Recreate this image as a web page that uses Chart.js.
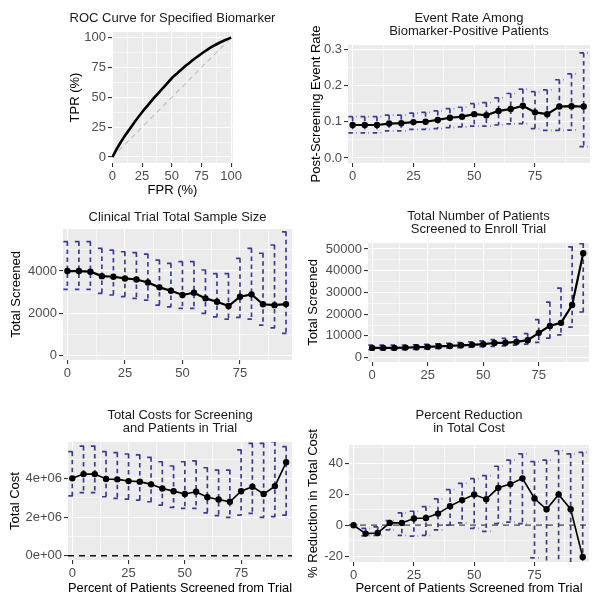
<!DOCTYPE html>
<html>
<head>
<meta charset="utf-8">
<script src="https://cdn.jsdelivr.net/npm/chart.js@4.4.1/dist/chart.umd.min.js"></script>
<style>
  html, body { margin: 0; padding: 0; background: #fff; }
  #wrap { position: relative; width: 604px; height: 602px; }
  canvas { position: absolute; }
</style>
</head>
<body>
<div id="wrap">
  <canvas id="roc" style="left:0;top:0;width:300px;height:200px" width="300" height="200"></canvas>
  <canvas id="rate" style="left:300px;top:0;width:304px;height:200px" width="304" height="200"></canvas>
  <canvas id="size" style="left:0;top:200px;width:300px;height:200px" width="300" height="200"></canvas>
  <canvas id="screen" style="left:300px;top:200px;width:304px;height:200px" width="304" height="200"></canvas>
  <canvas id="cost" style="left:0;top:400px;width:300px;height:202px" width="300" height="202"></canvas>
  <canvas id="reduct" style="left:300px;top:400px;width:304px;height:202px" width="304" height="202"></canvas>
</div>
<script>
// ---- data ----
const pct = [0, 5, 10, 15, 20, 25, 30, 35, 40, 45, 50, 55, 60, 65, 70, 75, 80, 85, 90, 95];

const rocFpr = [0, 5, 10, 15, 20, 25, 30, 35, 40, 45, 50, 55, 60, 65, 70, 75, 80, 85, 90, 95, 100];
const rocTpr = [0, 9, 17, 24, 31, 37.5, 43.5, 49.5, 55, 60.5, 66, 70.5, 75, 79, 83, 86.5, 90, 93, 95.7, 98, 100];

const eventRate   = [0.091, 0.091, 0.091, 0.095, 0.096, 0.099, 0.100, 0.105, 0.111, 0.114, 0.121, 0.118, 0.130, 0.135, 0.144, 0.126, 0.121, 0.142, 0.143, 0.142];
const eventRateHi = [0.114, 0.114, 0.114, 0.118, 0.118, 0.124, 0.126, 0.130, 0.136, 0.140, 0.150, 0.153, 0.166, 0.178, 0.190, 0.183, 0.188, 0.216, 0.232, 0.290];
const eventRateLo = [0.069, 0.069, 0.069, 0.075, 0.075, 0.079, 0.079, 0.081, 0.084, 0.086, 0.088, 0.088, 0.091, 0.094, 0.095, 0.081, 0.076, 0.076, 0.077, 0.031];

const sampleSize   = [4000, 4000, 3970, 3760, 3730, 3650, 3600, 3460, 3230, 3070, 2870, 2980, 2710, 2550, 2350, 2790, 2900, 2430, 2390, 2440];
const sampleSizeHi = [5390, 5390, 5390, 5070, 4990, 4910, 4870, 4800, 4520, 4360, 4440, 4440, 4050, 3880, 3880, 4600, 5070, 4840, 5230, 5850];
const sampleSizeLo = [3130, 3130, 3130, 2950, 2870, 2790, 2710, 2630, 2390, 2310, 2240, 2240, 2000, 1840, 1730, 1810, 1730, 1450, 1320, 1055];

const screened   = [4450, 4450, 4450, 4600, 4750, 4900, 5200, 5350, 5650, 5850, 6150, 6750, 6800, 7250, 8000, 11400, 14600, 16000, 24200, 48100];
const screenedHi = [5700, 5700, 5700, 5800, 5900, 6100, 6300, 6600, 6900, 7200, 7700, 8300, 8800, 9500, 11000, 17500, 25500, 32000, 51000, 52500];
const screenedLo = [3600, 3600, 3600, 3700, 3800, 4000, 4200, 4400, 4600, 4800, 5000, 5200, 5400, 5700, 6200, 7000, 9000, 10500, 14000, 21000];

const totalCost   = [4.00e6, 4.22e6, 4.22e6, 3.97e6, 3.95e6, 3.86e6, 3.83e6, 3.69e6, 3.48e6, 3.34e6, 3.19e6, 3.31e6, 3.02e6, 2.91e6, 2.79e6, 3.34e6, 3.57e6, 3.19e6, 3.60e6, 4.83e6];
const totalCostHi = [5.38e6, 5.67e6, 5.67e6, 5.38e6, 5.33e6, 5.26e6, 5.21e6, 5.09e6, 4.86e6, 4.64e6, 4.86e6, 4.90e6, 4.55e6, 4.43e6, 4.43e6, 5.47e6, 5.81e6, 5.81e6, 5.90e6, 5.64e6];
const totalCostLo = [3.09e6, 3.26e6, 3.26e6, 3.05e6, 2.97e6, 2.93e6, 2.88e6, 2.79e6, 2.62e6, 2.50e6, 2.45e6, 2.45e6, 2.22e6, 2.07e6, 1.98e6, 2.10e6, 2.19e6, 1.98e6, 2.02e6, 2.10e6];

const costReduction   = [0, -5.4, -5, 1.5, 1.5, 4.3, 4.7, 7.5, 12.3, 16.2, 19.8, 16.8, 24.1, 26.5, 30.2, 17.2, 10.3, 19.8, 10.3, -20.5];
const costReductionHi = [0, -2, -1, 3, 8, 9, 12, 17, 23, 27, 30, 32, 38, 42, 46, 41, 42, 48, 46, 47];
const costReductionLo = [0, -6.8, -6.5, -3, -6.5, -7, -6.5, -3, 0, 1.5, -2, -4, 1, 2, 1, -21, -30, -30, -30, -30];

// tick labels
const rocTicks = [0, 25, 50, 75, 100];
const pctTicks = [0, 25, 50, 75];
const rateTicks = [0, 0.1, 0.2, 0.3];
const sizeTicks = [0, 2000, 4000];
const screenTicks = [0, 10000, 20000, 30000, 40000, 50000];
const costTicks = [0, 2e6, 4e6];
const reductTicks = [-20, 0, 20, 40];

// ---- look ----
const FONT = "'Liberation Sans', Arial, sans-serif";
const TITLE_SIZE = 13, TITLE_LH = 13.4;
const AXT_SIZE = 13, AXT_LH = 15.6;
const TICK_SIZE = 13;
const BAR_COL = '#3b3b93';
const XR = [-1.9, 97.6];

const panelBg = {
  id: 'panelBg',
  beforeDraw(chart) {
    const a = chart.chartArea, ctx = chart.ctx;
    ctx.save();
    ctx.fillStyle = '#EBEBEB';
    ctx.fillRect(a.left, a.top, a.right - a.left, a.bottom - a.top);
    ctx.restore();
  }
};

// plot title centred over the panel, like ggplot
const panelTitle = {
  id: 'panelTitle',
  afterDraw(chart, args, opts) {
    const a = chart.chartArea, ctx = chart.ctx;
    ctx.save();
    ctx.fillStyle = '#1a1a1a';
    ctx.font = TITLE_SIZE + 'px ' + FONT;
    ctx.textAlign = 'center';
    ctx.textBaseline = 'middle';
    opts.lines.forEach((t, i) => ctx.fillText(t, (a.left + a.right) / 2, opts.y + i * TITLE_LH));
    ctx.restore();
  }
};

function withMinors(majors, min, max) {
  const step = majors[1] - majors[0];
  const all = majors.slice();
  for (let i = -1; i < majors.length; i++) {
    const m = majors[0] + (i + 0.5) * step;
    if (m > min && m < max) all.push(m);
  }
  return all.sort((a, b) => a - b);
}

function isMajor(v, majors) {
  return majors.some(m => Math.abs(m - v) < 1e-9 * Math.max(1, Math.abs(m)));
}

function axis(pos, min, max, majors, fmt, title, size) {
  const all = withMinors(majors, min, max);
  return {
    type: 'linear', position: pos, min: min, max: max,
    afterBuildTicks: s => { s.ticks = all.map(v => ({ value: v })); },
    afterFit: s => { if (pos === 'bottom') s.height = size; else s.width = size; },
    grid: {
      color: '#ffffff',
      lineWidth: c => (c.tick && isMajor(c.tick.value, majors)) ? 1.1 : 0.55,
      tickColor: c => (c.tick && isMajor(c.tick.value, majors)) ? '#333333' : 'rgba(0,0,0,0)',
      tickLength: 4,
      drawTicks: true
    },
    border: { display: false },
    ticks: {
      autoSkip: false, maxRotation: 0, minRotation: 0, padding: 2,
      color: '#4D4D4D', font: { family: FONT, size: TICK_SIZE },
      callback: v => isMajor(v, majors) ? fmt(v) : ''
    },
    title: {
      display: !!title, text: title || '', color: '#000',
      font: { family: FONT, size: AXT_SIZE }, padding: 0
    }
  };
}

function errorBars(xs, lo, hi, hw) {
  const pts = [];
  xs.forEach((x, i) => {
    pts.push({ x: x - hw, y: hi[i] }, { x: x + hw, y: hi[i] }, { x: x, y: null });
    pts.push({ x: x, y: hi[i] }, { x: x, y: lo[i] }, { x: x, y: null });
    pts.push({ x: x - hw, y: lo[i] }, { x: x + hw, y: lo[i] }, { x: x, y: null });
  });
  return pts;
}

function xy(xs, ys) {
  return xs.map((x, i) => ({ x: x, y: ys[i] }));
}

function lineSet(xs, ys, width) {
  return {
    data: xy(xs, ys), borderColor: '#000', backgroundColor: '#000',
    borderWidth: width, pointRadius: 3.2, pointBorderWidth: 0, pointBackgroundColor: '#000'
  };
}

function barSet(xs, lo, hi) {
  return {
    data: errorBars(xs, lo, hi, 1.75), borderColor: BAR_COL, borderWidth: 1.7,
    borderDash: [4.5, 3.5], pointRadius: 0, spanGaps: false
  };
}

// p: canvas size, plot area, title lines and their position, axis titles
function panel(id, p, datasets, xScale, yScale) {
  const padLeft = p.yTitleX - AXT_LH / 2;
  const padBottom = p.xTitle ? p.h - (p.xTitleY + AXT_LH / 2) : 0;
  const xH = p.xTitle ? (p.xTitleY + AXT_LH / 2) - p.area.b : p.h - p.area.b;

  const xs = axis('bottom', xScale.min, xScale.max, xScale.ticks, xScale.fmt, p.xTitle, xH);
  const ys = axis('left', yScale.min, yScale.max, yScale.ticks, yScale.fmt, p.yTitle, p.area.l - padLeft);

  new Chart(document.getElementById(id), {
    type: 'line',
    data: { datasets: datasets },
    options: {
      responsive: false, animation: false, devicePixelRatio: 1,
      layout: { autoPadding: false, padding: { left: padLeft, right: p.w - p.area.r, top: p.area.t, bottom: padBottom } },
      plugins: {
        legend: { display: false },
        tooltip: { enabled: false },
        title: { display: false },
        panelTitle: { lines: p.title, y: p.titleY }
      },
      scales: { x: xs, y: ys }
    },
    plugins: [panelBg, panelTitle]
  });
}

const plain = v => String(v);

// ROC
panel('roc', {
  w: 300, h: 200, area: { l: 112, t: 32, r: 233, b: 163 },
  title: ['ROC Curve for Specified Biomarker'], titleY: 18.5,
  yTitle: 'TPR (%)', yTitleX: 75, xTitle: 'FPR (%)', xTitleY: 190
}, [
  { data: xy(rocFpr, rocTpr), borderColor: '#000', borderWidth: 2.6, pointRadius: 0, cubicInterpolationMode: 'monotone' },
  { data: xy([0, 100], [0, 100]), borderColor: '#bdbdbd', borderWidth: 1.1, borderDash: [5, 4], pointRadius: 0 }
], { min: -0.3, max: 101.5, ticks: rocTicks, fmt: plain },
   { min: -5, max: 104.7, ticks: rocTicks, fmt: plain });

// Event rate
panel('rate', {
  w: 304, h: 200, area: { l: 48, t: 45, r: 290, b: 163 },
  title: ['Event Rate Among', 'Biomarker-Positive Patients'], titleY: 18.3,
  yTitle: 'Post-Screening Event Rate', yTitleX: 16.5
}, [
  lineSet(pct, eventRate, 2.2),
  barSet(pct, eventRateLo, eventRateHi)
], { min: XR[0], max: XR[1], ticks: pctTicks, fmt: plain },
   { min: -0.014, max: 0.312, ticks: rateTicks, fmt: v => v.toFixed(1) });

// Sample size
panel('size', {
  w: 300, h: 200, area: { l: 63, t: 29, r: 292, b: 160 },
  title: ['Clinical Trial Total Sample Size'], titleY: 17,
  yTitle: 'Total Screened', yTitleX: 16.5
}, [
  lineSet(pct, sampleSize, 2.2),
  barSet(pct, sampleSizeLo, sampleSizeHi)
], { min: XR[0], max: XR[1], ticks: pctTicks, fmt: plain },
   { min: -200, max: 5985, ticks: sizeTicks, fmt: plain });

// Total screened
panel('screen', {
  w: 304, h: 200, area: { l: 68, t: 43, r: 289, b: 162 },
  title: ['Total Number of Patients', 'Screened to Enroll Trial'], titleY: 16,
  yTitle: 'Total Screened', yTitleX: 13.5
}, [
  lineSet(pct, screened, 2.2),
  barSet(pct, screenedLo, screenedHi)
], { min: XR[0], max: XR[1], ticks: pctTicks, fmt: plain },
   { min: -2040, max: 52780, ticks: screenTicks, fmt: plain });

// Total cost
panel('cost', {
  w: 300, h: 202, area: { l: 68, t: 42, r: 292, b: 160 },
  title: ['Total Costs for Screening', 'and Patients in Trial'], titleY: 15,
  yTitle: 'Total Cost', yTitleX: 15,
  xTitle: 'Percent of Patients Screened from Trial', xTitleY: 188
}, [
  lineSet(pct, totalCost, 1.6),
  barSet(pct, totalCostLo, totalCostHi),
  { data: xy(XR, [0, 0]), borderColor: '#111', borderWidth: 1.4, borderDash: [6, 5], pointRadius: 0 }
], { min: XR[0], max: XR[1], ticks: pctTicks, fmt: plain },
   { min: -0.22e6, max: 5.88e6, ticks: costTicks,
     fmt: v => v === 0 ? '0e+00' : v.toExponential(0).replace('e+', 'e+0') });

// Percent reduction
panel('reduct', {
  w: 304, h: 202, area: { l: 49, t: 45, r: 289, b: 162 },
  title: ['Percent Reduction', 'in Total Cost'], titleY: 15,
  yTitle: '% Reduction in Total Cost', yTitleX: 13.5,
  xTitle: 'Percent of Patients Screened from Trial', xTitleY: 188
}, [
  lineSet(pct, costReduction, 1.6),
  barSet(pct, costReductionLo, costReductionHi),
  { data: xy(XR, [0, 0]), borderColor: '#444', borderWidth: 1.3, borderDash: [6, 5], pointRadius: 0 }
], { min: XR[0], max: XR[1], ticks: pctTicks, fmt: plain },
   { min: -23.7, max: 51.7, ticks: reductTicks, fmt: plain });
</script>
</body>
</html>
